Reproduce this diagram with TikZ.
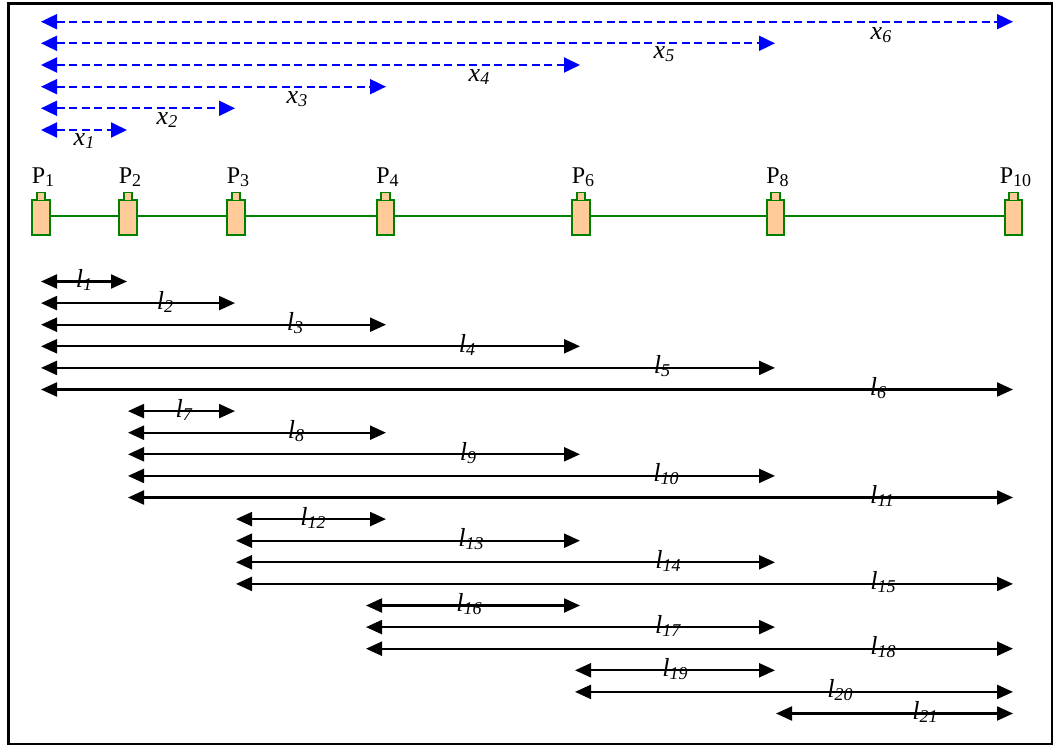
\documentclass[tikz,border=0pt]{standalone}
\usepackage{fontspec}
\setmainfont{Liberation Serif}
\usetikzlibrary{arrows.meta}
\definecolor{peach}{HTML}{FFCC99}
\definecolor{dkgreen}{HTML}{008000}
\definecolor{pureblue}{HTML}{0000FF}
\newcommand{\itlab}[2]{{\fontsize{26}{26}\selectfont\textit{#1}\raisebox{-3pt}{\fontsize{18}{18}\selectfont\textit{#2}}}}
\newcommand{\plab}[1]{{\fontsize{24}{24}\selectfont P\raisebox{-2.5pt}{\fontsize{18}{18}\selectfont #1}}}
\tikzset{
  body/.style={draw=dkgreen, fill=peach, line width=1.6pt, minimum width=17.5pt, minimum height=35.5pt, inner sep=0pt, outer sep=0pt},
  capbox/.style={draw=dkgreen, fill=peach, line width=1.6pt, minimum width=8.5pt, minimum height=8pt, inner sep=0pt, outer sep=0pt},
  wire/.style={draw=dkgreen, line width=1.8pt},
  dimarrow/.style={draw=black, line width=2.2pt, {Triangle[length=16pt,width=14pt]}-{Triangle[length=16pt,width=14pt]}},
  xarrow/.style={draw=pureblue, line width=1.9pt, dash pattern=on 8pt off 4.5pt, {Triangle[length=16pt,width=15pt]}-{Triangle[length=16pt,width=15pt]}},
  lbl/.style={anchor=base, inner sep=0pt, outer sep=0pt}
}
\begin{document}
\begin{tikzpicture}[x=1pt,y=-1pt]
\useasboundingbox (0,0) rectangle (1055,746);
\draw[line width=2.5pt] (8.5,3.5) rectangle (1052,744);
% components
\foreach \n/\x in {1/41,2/128,3/236,4/385.5,6/581,8/775.5,10/1013.5} {
  \node[body] (P\n) at (\x,217.5) {};
  \node[capbox, anchor=south] (C\n) at ([yshift=-0.8pt]P\n.north) {};
  \node[lbl] (L\n) at (\x+2,184) {\plab{\n}};
}
\foreach \a/\b in {1/2,2/3,3/4,4/6,6/8,8/10} {
  \draw[wire] ([yshift=1.5pt]P\a.east) -- ([yshift=1.5pt]P\b.west);
}
% blue x distances
\foreach \n/\e/\lx/\ly/\bl in {1/127/84/130/146, 2/235/167/108.3/125, 3/386/297/86.7/104, 4/580/479/65/82, 5/775/664/43.3/59, 6/1013/881/21.7/40} {
  \coordinate (xs\n) at (41,\ly);
  \coordinate (xe\n) at (\e,\ly);
  \draw[xarrow] (xs\n) -- (xe\n);
  \node[lbl] (xl\n) at (\lx,\bl) {\itlab{x}{\n}};
}
% black l distances
\foreach \n/\s/\e/\lx in {1/41/127/84, 2/41/235/165, 3/41/386/295, 4/41/580/467, 5/41/775/662, 6/41/1013/878, 7/128/235/184, 8/128/386/296, 9/128/580/468, 10/128/775/666, 11/128/1013/882, 12/236/386/313, 13/236/580/471, 14/236/775/668, 15/236/1013/883, 16/366/580/469, 17/366/775/668, 18/366/1013/883, 19/575/775/675, 20/575/1013/840, 21/776/1013/925} {
  \pgfmathsetmacro{\yy}{281.5+(\n-1)*21.6}
  \coordinate (ls\n) at (\s,\yy);
  \coordinate (le\n) at (\e,\yy);
  \draw[dimarrow] (ls\n) -- (le\n);
  \node[lbl] (ll\n) at (\lx,\yy+6) {\itlab{l}{\n}};
}
\end{tikzpicture}
\end{document}
